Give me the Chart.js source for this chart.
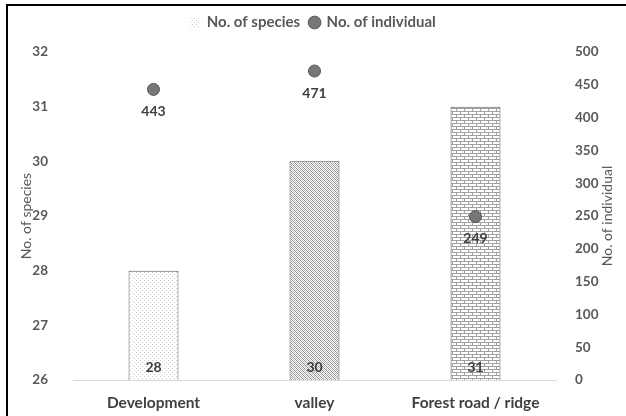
<!DOCTYPE html>
<html>
<head>
<meta charset="utf-8">
<script src="https://cdn.jsdelivr.net/npm/chart.js@4"></script>
<style>
  html, body { margin: 0; padding: 0; background: #fff; }
  #wrap { position: relative; width: 626px; height: 416px; overflow: hidden; }
  #frame { position: absolute; left: 6px; top: 4px; width: 700px; height: 500px;
           border-left: 2px solid #000; border-top: 2px solid #000; pointer-events: none; }
  canvas { position: absolute; left: 0; top: 0; }
</style>
</head>
<body>
<div id="wrap">
  <canvas id="c" width="626" height="416"></canvas>
  <div id="frame"></div>
</div>
<script>
// Sites surveyed
const categories = ['Development', 'valley', 'Forest road / ridge'];
// Species richness per site (left axis)
const speciesCounts = [28, 30, 31];
// Individuals counted per site (right axis)
const individualCounts = [443, 471, 249];
// Axis ticks
const speciesTicks = [26, 27, 28, 29, 30, 31, 32];
const individualTicks = [0, 50, 100, 150, 200, 250, 300, 350, 400, 450, 500];
// Axis titles
const leftTitle = 'No. of species';
const rightTitle = 'No. of individual';

const FONT = 'Lato, "Open Sans", sans-serif';
const TEXT = '#595959';

function makePattern(draw, w, h) {
  const c = document.createElement('canvas');
  c.width = w; c.height = h;
  const g = c.getContext('2d');
  g.fillStyle = '#fff';
  g.fillRect(0, 0, w, h);
  draw(g);
  return document.getElementById('c').getContext('2d').createPattern(c, 'repeat');
}

// fine dots
const dotsPattern = makePattern(g => {
  g.fillStyle = '#cfcfcf';
  g.fillRect(0, 0, 1, 1);
  g.fillRect(2, 2, 1, 1);
}, 4, 4);

// dense diagonal hatch
const hatchPattern = makePattern(g => {
  g.fillStyle = '#8c8c8c';
  for (let i = 0; i < 4; i++) {
    g.fillRect(i, i, 1, 1);
  }
  g.fillStyle = '#bdbdbd';
  for (let i = 0; i < 4; i++) g.fillRect((i + 2) % 4, i, 1, 1);
}, 4, 4);

// brick
const brickPattern = makePattern(g => {
  g.fillStyle = '#a0a0a0';
  g.fillRect(0, 0, 8, 1);
  g.fillRect(0, 3, 8, 1);
  g.fillRect(0, 0, 1, 3);
  g.fillRect(4, 3, 1, 3);
}, 8, 6);

const valueLabels = {
  id: 'valueLabels',
  beforeInit(chart) {
    // fixed legend band height above the plot
    const lg = chart.legend;
    if (lg) {
      const fit = lg.fit.bind(lg);
      lg.fit = function () { fit(); this.height = 47; };
    }
  },
  afterDraw(chart) {
    const ctx = chart.ctx;
    const area = chart.chartArea;
    ctx.save();
    ctx.font = '14px ' + FONT;
    ctx.fillStyle = TEXT;
    ctx.textAlign = 'center';
    ctx.textBaseline = 'middle';
    const midY = (area.top + area.bottom) / 2;
    [[26, leftTitle], [607, rightTitle]].forEach(([x, t]) => {
      ctx.save();
      ctx.translate(x, midY);
      ctx.rotate(-Math.PI / 2);
      ctx.fillText(t, 0, 0);
      ctx.restore();
    });
    ctx.restore();
  },
  afterDatasetsDraw(chart) {
    const ctx = chart.ctx;
    ctx.save();
    ctx.font = 'bold 14px ' + FONT;
    ctx.fillStyle = '#404040';
    ctx.textAlign = 'center';
    ctx.textBaseline = 'middle';
    const bars = chart.getDatasetMeta(0).data;
    const yS = chart.scales.y;
    bars.forEach((b, i) => {
      ctx.fillText(String(speciesCounts[i]), b.x, yS.bottom - 13);
    });
    const pts = chart.getDatasetMeta(1).data;
    pts.forEach((p, i) => {
      ctx.fillText(String(individualCounts[i]), p.x, p.y + 22);
    });
    ctx.restore();
  }
};

new Chart(document.getElementById('c'), {
  data: {
    labels: categories,
    datasets: [
      {
        type: 'bar',
        label: 'No. of species',
        data: speciesCounts,
        yAxisID: 'y',
        backgroundColor: [dotsPattern, hatchPattern, brickPattern],
        borderColor: '#555',
        borderWidth: 1,
        categoryPercentage: 1,
        barPercentage: 0.31,
        order: 2
      },
      {
        type: 'line',
        label: 'No. of individual',
        data: individualCounts,
        yAxisID: 'y1',
        showLine: false,
        pointRadius: 6,
        pointBackgroundColor: '#777',
        pointBorderColor: '#555',
        pointBorderWidth: 1,
        order: 1
      }
    ]
  },
  options: {
    responsive: false,
    animation: false,
    layout: { padding: { top: 5, left: 0, right: 0, bottom: 0 } },
    plugins: {
      legend: {
        position: 'top',
        labels: {
          font: { family: FONT, size: 15, weight: 'bold' },
          color: TEXT,
          usePointStyle: true,
          boxWidth: 9,
          boxHeight: 9,
          padding: 10,
          generateLabels(chart) {
            return [
              { text: 'No. of species', fillStyle: dotsPattern, strokeStyle: '#e0e0e0', lineWidth: 0,
                pointStyle: 'rect', datasetIndex: 0, fontColor: TEXT },
              { text: 'No. of individual', fillStyle: '#777', strokeStyle: '#555', lineWidth: 1,
                pointStyle: 'circle', datasetIndex: 1, fontColor: TEXT }
            ];
          }
        }
      },
      tooltip: { enabled: false }
    },
    scales: {
      x: {
        grid: { display: false },
        border: { color: '#d9d9d9', width: 1 },
        ticks: { font: { family: FONT, size: 15.5, weight: 'bold' }, color: '#404040', padding: 6 },
        afterFit(s) { s.height = 36; }
      },
      y: {
        position: 'left',
        min: 26, max: 32,
        grid: { display: false },
        border: { display: false },
        afterBuildTicks(s) { s.ticks = speciesTicks.map(v => ({ value: v })); },
        ticks: { font: { family: FONT, size: 13.5, weight: 'bold' }, color: TEXT, padding: 17 },
        afterFit(s) { s.width = 73; }
      },
      y1: {
        position: 'right',
        min: 0, max: 500,
        grid: { display: false },
        border: { display: false },
        afterBuildTicks(s) { s.ticks = individualTicks.map(v => ({ value: v })); },
        ticks: { font: { family: FONT, size: 13.5, weight: 'bold' }, color: TEXT, padding: 11 },
        afterFit(s) { s.width = 70; }
      }
    }
  },
  plugins: [valueLabels]
});
</script>
</body>
</html>
